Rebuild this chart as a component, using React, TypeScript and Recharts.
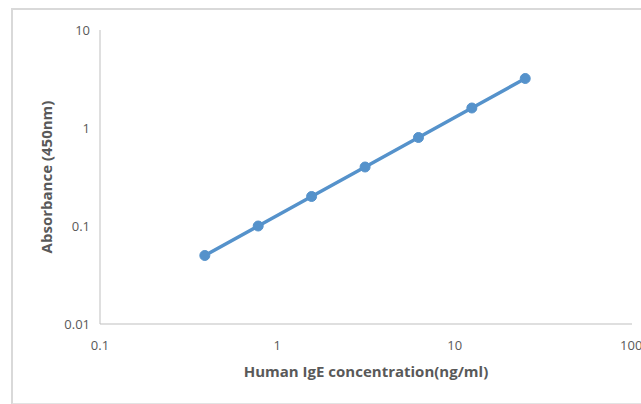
import React from "react";
import { LineChart, Line, XAxis, YAxis, Label } from "recharts";

const concentrations = [0.39, 0.78, 1.56, 3.125, 6.25, 12.5, 25];
const absorbance = [0.05, 0.1, 0.2, 0.4, 0.8, 1.6, 3.2];
const xTicks = [0.1, 1, 10, 100];
const yTicks = [0.01, 0.1, 1, 10];
const xTitle = "Human IgE concentration(ng/ml)";
const yTitle = "Absorbance (450nm)";

const data = concentrations.map((c, i) => ({ x: c, y: absorbance[i] }));

const FONT = "'Open Sans', 'Noto Sans', sans-serif";
const tickStyle = { fill: "#595959", fontSize: 13, fontFamily: FONT };

export default function App() {
  return (
    <div style={{ position: "absolute", left: 0, top: 0, width: 641, height: 404, background: "#fff", overflow: "hidden" }}>
      <div
        style={{
          position: "absolute",
          left: 11,
          top: 8,
          width: 640,
          height: 393,
          borderTop: "2px solid #d9d9d9",
          borderLeft: "2px solid #d9d9d9",
          borderBottom: "2px solid #e3e3e3",
        }}
      />
      <div style={{ position: "absolute", left: 0, top: 0 }}>
        <LineChart width={641} height={404} data={data} margin={{ top: 30, right: 9, left: 40, bottom: 20 }}>
          <XAxis
            dataKey="x"
            type="number"
            scale="log"
            domain={[0.1, 100]}
            ticks={xTicks}
            allowDataOverflow
            tickLine={false}
            tickSize={15}
            tickMargin={2}
            stroke="#bfbfbf"
            tick={tickStyle}
            height={60}
            tickFormatter={(v: number) => String(v)}
          >
            <Label
              value={xTitle}
              position="insideBottom"
              offset={7}
              style={{ fill: "#595959", fontSize: 15, fontWeight: 700, fontFamily: FONT }}
            />
          </XAxis>
          <YAxis
            dataKey="y"
            type="number"
            scale="log"
            domain={[0.01, 10]}
            ticks={yTicks}
            allowDataOverflow
            tickLine={false}
            tickSize={8}
            tickMargin={2}
            stroke="#bfbfbf"
            tick={tickStyle}
            width={60}
            tickFormatter={(v: number) => String(v)}
          >
            <Label
              value={yTitle}
              angle={-90}
              position="insideLeft"
              offset={7}
              style={{ textAnchor: "middle", fill: "#595959", fontSize: 15, fontWeight: 700, fontFamily: FONT }}
            />
          </YAxis>
          <Line
            type="linear"
            dataKey="y"
            stroke="#5592cb"
            strokeWidth={3.5}
            dot={{ r: 5, fill: "#5592cb", stroke: "#5592cb", strokeWidth: 1 }}
            isAnimationActive={false}
          />
        </LineChart>
      </div>
    </div>
  );
}
